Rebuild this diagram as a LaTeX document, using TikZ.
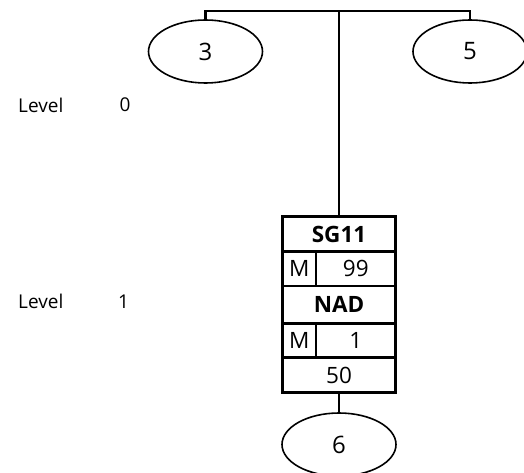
\documentclass[tikz,border=0pt]{standalone}
\usepackage{fontspec}
\setmainfont{Open Sans}
\usetikzlibrary{shapes.geometric}
\begin{document}
\begin{tikzpicture}[x=1pt,y=-1pt,
  conn/.style={line width=2.8pt},
  oval/.style={ellipse,draw,line width=1.6pt,minimum width=114pt,minimum height=63pt,inner sep=0pt,font=\fontsize{24}{24}\selectfont},
  cell/.style={rectangle,draw,line width=2.8pt,inner sep=0pt,outer sep=0pt,font=\fontsize{22.5}{22.5}\selectfont},
  boldcell/.style={cell,font=\fontsize{22.5}{22.5}\selectfont\bfseries},
  lvl/.style={anchor=west,inner sep=0pt,font=\fontsize{19}{19}\selectfont}]
\useasboundingbox (0,0) rectangle (524,473);
\clip (0,0) rectangle (524,473);
% level labels
\node[lvl] (l0) at (18,105) {Level};
\node[lvl] (l0n) at (119.5,105) {0};
\node[lvl] (l1) at (18,301.5) {Level};
\node[lvl] (l1n) at (118,301.5) {1};
% ovals
\node[oval] (e3) at (205.5,51.5) {3};
\node[oval] (e5) at (470,51.5) {5};
\node[oval] (e6) at (339,444.5) {6};
% box rows
\node[boldcell,minimum width=113pt,minimum height=35pt] (sg) at (339,234.2) {SG11};
\node[cell,minimum width=33.5pt,minimum height=34.3pt] (mA) at (299.25,268.85) {M};
\node[cell,minimum width=79.5pt,minimum height=34.3pt] (vA) at (355.75,268.85) {99};
\node[boldcell,minimum width=113pt,minimum height=37.3pt] (nad) at (339,304.65) {NAD};
\node[cell,minimum width=33.5pt,minimum height=34.4pt] (mB) at (299.25,340.5) {M};
\node[cell,minimum width=79.5pt,minimum height=34.4pt] (vB) at (355.75,340.5) {1};
\node[cell,minimum width=113pt,minimum height=35pt] (fifty) at (339,375.2) {50};
% connectors
\coordinate (top) at (339,11);
\draw[conn] (e3.north) |- (top) -| (e5.north);
\draw[conn] (top) -- (sg.north);
\draw[conn] (fifty.south) -- (e6.north);
\end{tikzpicture}
\end{document}
